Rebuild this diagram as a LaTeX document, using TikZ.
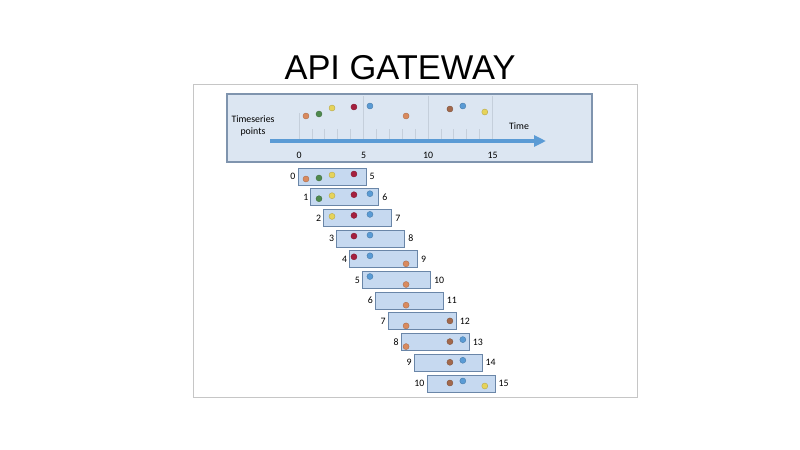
\documentclass[tikz,border=0pt]{standalone}
\usepackage{fontspec}
\setmainfont{Carlito}
\newfontfamily\titlefont{Liberation Sans}
\usepackage{xcolor}
\usepackage{tikz}
\usetikzlibrary{arrows.meta}

\definecolor{panelfill}{HTML}{DCE6F2}
\definecolor{panelline}{HTML}{7F94AE}
\definecolor{boxfill}{HTML}{C6D9F0}
\definecolor{boxline}{HTML}{6A86A8}
\definecolor{tickgray}{HTML}{C5CFDB}
\definecolor{axisblue}{HTML}{5B9BD5}
\definecolor{dotorange}{HTML}{D98A5E}
\definecolor{dotgreen}{HTML}{4F8A4E}
\definecolor{dotyellow}{HTML}{E6D35A}
\definecolor{dotred}{HTML}{A5203F}
\definecolor{dotblue}{HTML}{5A9BD5}
\definecolor{dotbrown}{HTML}{A3694C}

\begin{document}
\begin{tikzpicture}
        [x=0.5mm,y=-0.5mm,
         small/.style={font=\fontsize{14}{17}\selectfont,inner sep=0pt},
         winbox/.style={draw=boxline,line width=0.45mm,fill=boxfill,
                        minimum width=34mm,minimum height=8.5mm,inner sep=0pt},
         dot/.style={line width=0.2mm}]
        \useasboundingbox (0,0) rectangle (800,450);

        % title and frame
        \node [anchor=base,name=title] at (400,79) {\titlefont\fontsize{49}{55}\selectfont API GATEWAY};
        \draw [gray!45,line width=0.5mm] (193,84) rectangle (637,397);

        % timeline panel
        \draw [draw=panelline,line width=0.65mm,fill=panelfill] (227,94) rectangle (592,162);
        \foreach \t in {1,...,14}
            \draw [tickgray,line width=0.4mm] ({299+12.9*\t},129) -- ({299+12.9*\t},139);
        \draw [tickgray,line width=0.4mm] (299,113) -- (299,139);
        \foreach \t in {5,10,15}
            \draw [tickgray,line width=0.4mm] ({299+12.9*\t},96) -- ({299+12.9*\t},139);
        \foreach \t in {0,5,10,15}
            \node [small,name=n\t] at ({299+12.9*\t},155) {\t};

        \node [small,align=center,name=tsp] at (253,126) {Timeseries\\points};
        \node [small,name=time] at (519,126) {Time};
        \coordinate (axisstart) at (270,141);
        \coordinate (axisend) at (546,141);
        \draw [axisblue,line width=1.7mm,-{Triangle[length=6mm,width=5.5mm]}] (axisstart) -- (axisend);

        % points on the timeline
        \foreach \t/\py/\c in {0.54/116/dotorange,1.55/114/dotgreen,2.56/108/dotyellow,
                               4.26/107/dotred,5.5/106/dotblue,8.3/116/dotorange,
                               11.7/109/dotbrown,12.7/106/dotblue,14.4/112/dotyellow}
            \filldraw [dot,fill=\c,draw=\c!80!black] ({299+12.9*\t},\py) circle (1.5mm);

        % sliding windows
        \foreach \i in {0,...,10} {
            \pgfmathtruncatemacro\hi{\i+5}
            \node [winbox,name=w\i] at ({299+12.9*\i+33},{176.5+20.7*\i}) {};
            \node [small,anchor=east,name=lo\i] at ([xshift=-1mm]w\i.west) {\i};
            \node [small,anchor=west,name=hi\i] at ([xshift=1.5mm]w\i.east) {\hi};
            \foreach \t/\dy/\c in {0.54/11/dotorange,1.55/10/dotgreen,2.56/7/dotyellow,
                                   4.26/6/dotred,5.5/5/dotblue,8.3/13/dotorange,
                                   11.7/8/dotbrown,12.7/6/dotblue,14.4/11/dotyellow} {
                \pgfmathtruncatemacro\inbox{and(\t>=\i,\t<=\i+5)}
                \ifnum\inbox=1
                    \filldraw [dot,fill=\c,draw=\c!80!black] ({299+12.9*\t},{168+20.7*\i+\dy}) circle (1.5mm);
                \fi
            }
        }
    \end{tikzpicture}
\end{document}
